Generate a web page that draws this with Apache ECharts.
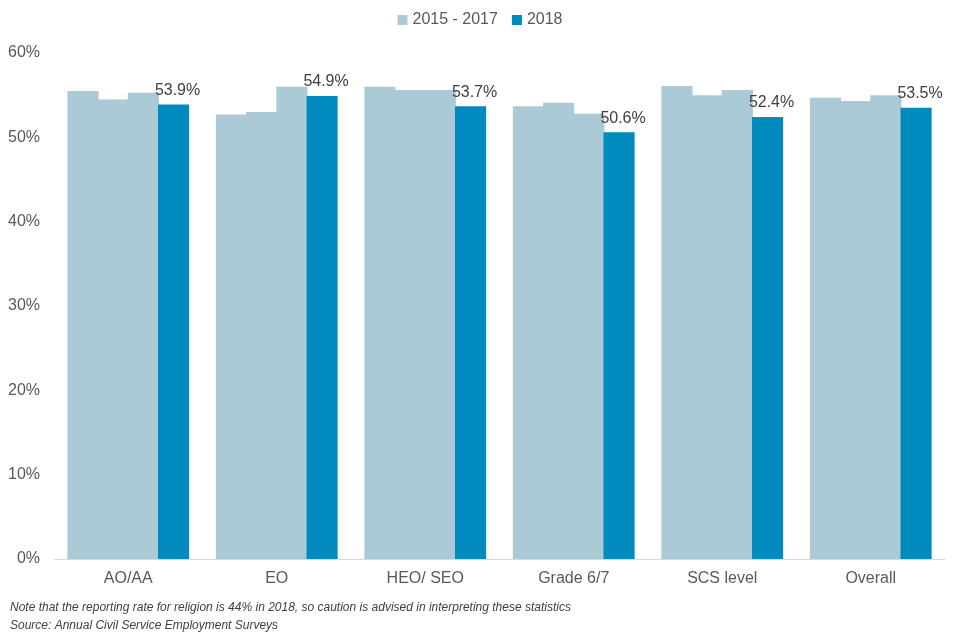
<!DOCTYPE html>
<html><head><meta charset="utf-8">
<script src="https://cdn.jsdelivr.net/npm/echarts@6/dist/echarts.min.js"></script>
<style>html,body{margin:0;padding:0;background:#fff}#c{width:960px;height:640px}</style>
</head><body><div id="c"></div>
<script>
const categories = ['AO/AA', 'EO', 'HEO/ SEO', 'Grade 6/7', 'SCS level', 'Overall'];
const values2015 = [55.5, 52.7, 56.0, 53.7, 56.1, 54.7];
const values2016 = [54.5, 53.0, 55.6, 54.1, 55.0, 54.3];
const values2017 = [55.3, 56.0, 55.6, 52.8, 55.6, 55.0];
const values2018 = [53.9, 54.9, 53.7, 50.6, 52.4, 53.5];
const yTicks = [0, 10, 20, 30, 40, 50, 60];
const legendLabels = ['2015 - 2017', '2018'];
const noteLines = ['Note that the reporting rate for religion is 44% in 2018, so caution is advised in interpreting these statistics', 'Source: Annual Civil Service Employment Surveys'];

const light = '#ABCAD6', dark = '#008ABD';
const chart = echarts.init(document.getElementById('c'));
const lightSeries = [values2015, values2016, values2017].map(v => ({
  name: legendLabels[0], type: 'bar', data: v, barGap: '-3%', barCategoryGap: '18%',
  itemStyle: {color: light}
}));
chart.setOption({
  animation: false,
  textStyle: {fontFamily: 'Arial, "Liberation Sans", sans-serif'},
  legend: {
    data: legendLabels, top: 7, left: 'center', itemWidth: 10, itemHeight: 10, itemGap: 14,
    icon: 'rect',
    textStyle: {color: '#595959', fontSize: 16}
  },
  grid: {left: 54, right: 15, top: 53, bottom: 81},
  xAxis: {
    type: 'category', data: categories,
    axisLine: {lineStyle: {color: '#D9D9D9'}},
    axisTick: {show: false},
    axisLabel: {color: '#595959', fontSize: 16, margin: 12}
  },
  yAxis: {
    type: 'value', min: yTicks[0], max: yTicks[yTicks.length - 1], interval: 10,
    splitLine: {show: false},
    axisLine: {show: false}, axisTick: {show: false},
    axisLabel: {color: '#595959', fontSize: 16, margin: 14, formatter: v => v + '%'}
  },
  series: [...lightSeries, {
    name: legendLabels[1], type: 'bar', data: values2018, barGap: '-3%', barCategoryGap: '18%',
    itemStyle: {color: dark},
    label: {show: true, position: 'top', offset: [4, 0], distance: 6, color: '#404040', fontSize: 16,
      formatter: p => p.value.toFixed(1) + '%'}
  }],
  graphic: noteLines.map((t, i) => ({
    type: 'text', left: 10, top: 602 + i * 18,
    style: {text: t, fill: '#404040', font: 'italic 12px "Liberation Sans", Arial, sans-serif'}
  }))
});
</script></body></html>
